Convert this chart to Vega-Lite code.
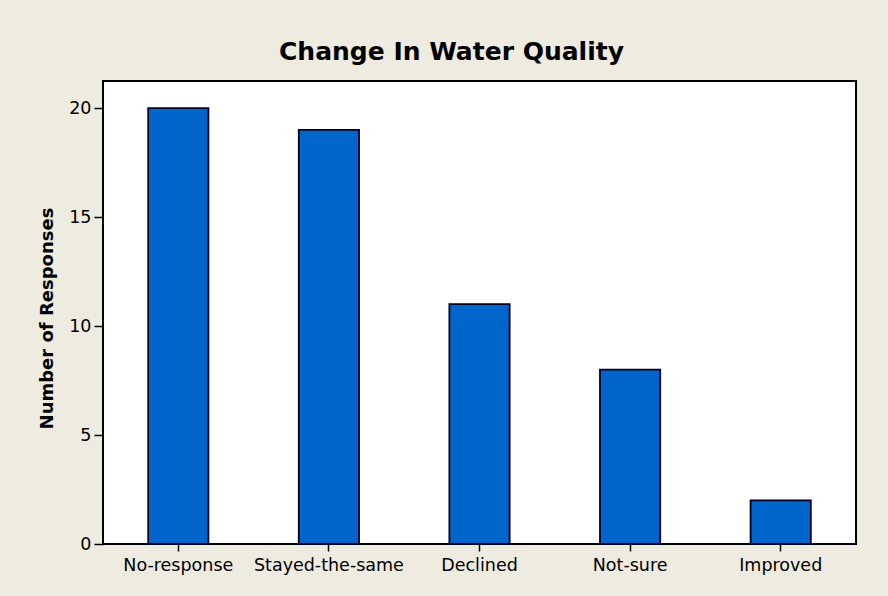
{
  "$schema": "https://vega.github.io/schema/vega-lite/v6.json",
  "autosize": "none",
  "width": 753,
  "height": 463,
  "padding": {"left": 103, "top": 81, "right": 32, "bottom": 52},
  "background": "#EEEBE0",
  "title": {
    "text": "Change In Water Quality",
    "font": "DejaVu Sans",
    "fontSize": 25,
    "fontWeight": "bold",
    "color": "#000000",
    "anchor": "middle",
    "offset": 16,
    "dx": -28
  },
  "data": {
    "values": [
      {"response": "No-response", "count": 20},
      {"response": "Stayed-the-same", "count": 19},
      {"response": "Declined", "count": 11},
      {"response": "Not-sure", "count": 8},
      {"response": "Improved", "count": 2}
    ]
  },
  "mark": {"type": "bar", "color": "#0066CC", "stroke": "#000022", "strokeWidth": 1.8},
  "encoding": {
    "x": {
      "field": "response",
      "type": "nominal",
      "sort": null,
      "scale": {"paddingInner": 0.6, "paddingOuter": 0.3},
      "axis": {
        "title": null,
        "labelAngle": 0,
        "labelFont": "DejaVu Sans",
        "labelFontSize": 17.5,
        "labelColor": "#000000",
        "labelPadding": 5,
        "tickColor": "#000000",
        "tickSize": 7,
        "tickWidth": 1.5,
        "domain": false
      }
    },
    "y": {
      "field": "count",
      "type": "quantitative",
      "scale": {"domain": [0, 21.24], "nice": false},
      "axis": {
        "title": "Number of Responses",
        "titleFont": "DejaVu Sans",
        "titleFontSize": 18,
        "titleFontWeight": "bold",
        "titleColor": "#000000",
        "titleX": -51,
        "titleY": 237,
        "titleBaseline": "alphabetic",
        "titleAlign": "center",
        "values": [0, 5, 10, 15, 20],
        "grid": false,
        "labelFont": "DejaVu Sans",
        "labelFontSize": 17.5,
        "labelColor": "#000000",
        "labelPadding": 3,
        "tickColor": "#000000",
        "tickSize": 9,
        "tickWidth": 1.5,
        "domain": false
      }
    }
  },
  "config": {
    "view": {"fill": "#FFFFFF", "stroke": "#000000", "strokeWidth": 2}
  }
}
